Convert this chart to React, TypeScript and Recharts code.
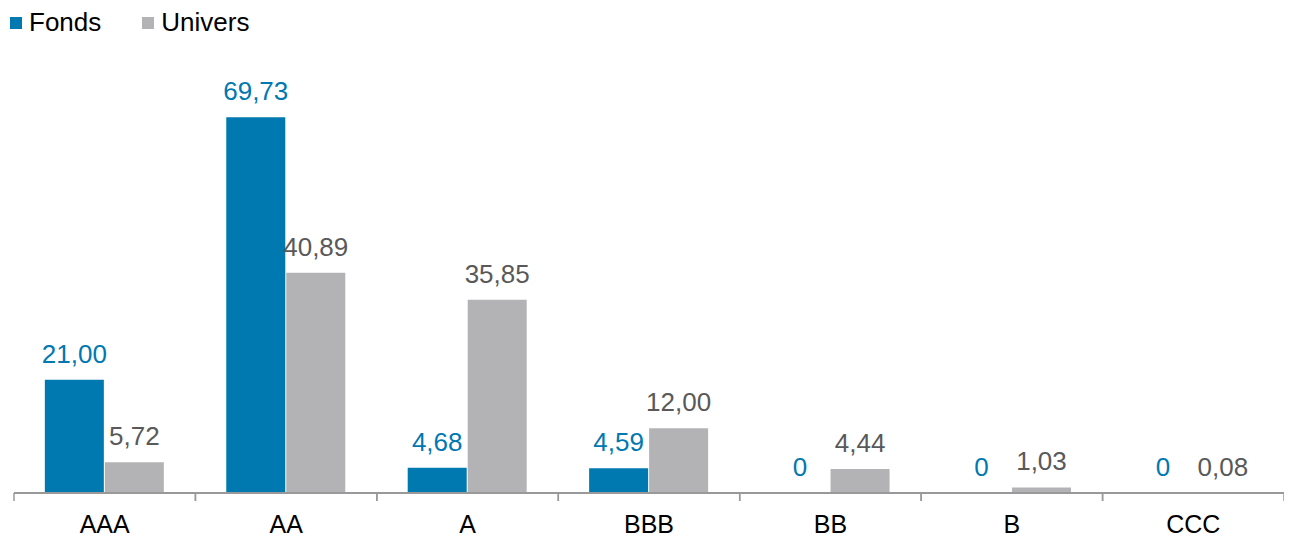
import { BarChart, Bar, XAxis, YAxis, Legend, LabelList } from "recharts";

const categories = ["AAA", "AA", "A", "BBB", "BB", "B", "CCC"];
const fonds = [21.0, 69.73, 4.68, 4.59, 0, 0, 0];
const univers = [5.72, 40.89, 35.85, 12.0, 4.44, 1.03, 0.08];

const FONDS_COLOR = "#0078b0";
const UNIVERS_COLOR = "#b3b3b5";
const FONT = "'Liberation Sans', Arial, sans-serif";

const data = categories.map((c, i) => ({
  rating: c,
  fonds: fonds[i],
  univers: univers[i],
}));

function formatValue(v: number): string {
  if (v === 0) return "0";
  return v.toFixed(2).replace(".", ",");
}

function CategoryTick(props: any) {
  const { x, y, payload, width } = props;
  const half = payload?.offset ?? width / categories.length / 2;
  return (
    <g>
      <line x1={x - half} y1={y} x2={x - half} y2={y + 8} stroke="#999" strokeWidth={1.5} />
      <line x1={x + half} y1={y} x2={x + half} y2={y + 8} stroke="#999" strokeWidth={1.5} />
      <text x={x} y={y + 40} textAnchor="middle" fill="#000" fontSize={25} fontFamily={FONT}>
        {payload.value}
      </text>
    </g>
  );
}

// value label drawn above the bar, also for zero values
function makeLabel(color: string) {
  return (p: any) => {
    const { x, y, width, value } = p;
    if (value == null) return null;
    return (
      <text
        x={Number(x) + Number(width) / 2}
        y={Number(y) - 17}
        textAnchor="middle"
        fill={color}
        fontSize={26}
        fontFamily={FONT}
      >
        {formatValue(Number(value))}
      </text>
    );
  };
}

function LegendContent() {
  const items = [
    { label: "Fonds", color: FONDS_COLOR },
    { label: "Univers", color: UNIVERS_COLOR },
  ];
  return (
    <div style={{ display: "flex", fontFamily: FONT, fontSize: 26, color: "#000" }}>
      {items.map((it) => (
        <div key={it.label} style={{ display: "flex", alignItems: "center", marginRight: 41 }}>
          <span style={{ width: 12, height: 12, background: it.color, marginRight: 7, display: "inline-block" }} />
          <span>{it.label}</span>
        </div>
      ))}
    </div>
  );
}

export default function App() {
  return (
    <div style={{ width: 1284, height: 529, position: "relative" }}>
      <BarChart
        width={1284}
        height={529}
        data={data}
        margin={{ top: 54, right: 8, left: 6, bottom: 0 }}
        barCategoryGap="17%"
        barGap={1}
      >
        <Legend
          verticalAlign="middle"
          align="center"
          layout="horizontal"
          content={<LegendContent />}
          wrapperStyle={{ top: -1, left: 2, width: "auto" }}
        />
        <YAxis hide width={0} domain={[0, 80]} />
        <XAxis
          dataKey="rating"
          height={44}
          tickSize={0}
          tickMargin={0}
          tickLine={false}
          axisLine={{ stroke: "#999", strokeWidth: 2 }}
          tick={<CategoryTick />}
          interval={0}
        />
        <Bar dataKey="fonds" fill={FONDS_COLOR} minPointSize={0.01} isAnimationActive={false}>
          <LabelList dataKey="fonds" content={makeLabel(FONDS_COLOR)} />
        </Bar>
        <Bar dataKey="univers" fill={UNIVERS_COLOR} isAnimationActive={false}>
          <LabelList dataKey="univers" content={makeLabel("#595959")} />
        </Bar>
      </BarChart>
    </div>
  );
}
